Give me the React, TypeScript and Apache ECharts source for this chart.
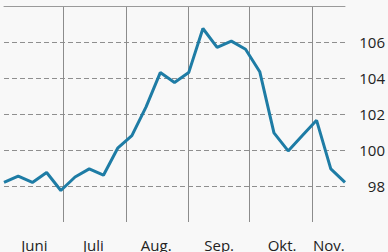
import React, { useEffect, useRef } from "react";
import * as echarts from "echarts";

// Days since 31 May (weekly observations)
const days = [1, 8, 15, 22, 29, 36, 43, 50, 57, 64, 71, 78, 85, 92, 99, 106, 113, 120, 127, 134, 141, 148, 155, 162, 169];
const values = [98.2, 98.55, 98.2, 98.75, 97.75, 98.5, 98.95, 98.6, 100.1, 100.8, 102.4, 104.3, 103.75, 104.3, 106.75, 105.7, 106.05, 105.6, 104.35, 100.95, 99.95, 100.8, 101.65, 98.95, 98.2];

// Month boundaries and label positions (same day units)
const monthStarts = [30, 61, 92, 122, 153];
const monthMids = [16, 45, 76, 107, 138, 161];
const monthNames = ["Juni", "Juli", "Aug.", "Sep.", "Okt.", "Nov."];

const yTicksShown = [98, 100, 102, 104, 106];

export default function App() {
  const ref = useRef<HTMLDivElement>(null);
  useEffect(() => {
    if (!ref.current) return;
    const chart = echarts.init(ref.current, null, { renderer: "svg" });
    const font = "'Open Sans', 'Noto Sans', sans-serif";
    chart.setOption({
      animation: false,
      backgroundColor: "#f8f8f8",
      grid: { left: 4, right: 43, top: 6, bottom: 30, containLabel: false },
      xAxis: [
        {
          type: "value",
          position: "bottom",
          min: 1,
          max: 169,
          axisLine: { show: false },
          axisTick: { show: false, customValues: monthStarts },
          splitLine: { show: true, lineStyle: { color: "#8c8c8c", width: 1, type: "solid" } },
          axisLabel: {
            customValues: monthMids,
            formatter: (v: number) => monthNames[monthMids.indexOf(v)] ?? "",
            fontFamily: font,
            fontSize: 15,
            color: "#222",
            margin: 15,
          },
        },
        {
          type: "value",
          position: "top",
          min: 1,
          max: 169,
          axisLine: { show: true, lineStyle: { color: "#9a9a9a", width: 1 } },
          axisTick: { show: false },
          axisLabel: { show: false },
          splitLine: { show: false },
        },
      ],
      yAxis: {
        type: "value",
        position: "right",
        min: 96,
        max: 108,
        interval: 2,
        axisLine: { show: false },
        axisTick: { show: false },
        axisLabel: {
          align: "right",
          margin: 40,
          fontFamily: font,
          fontSize: 15,
          color: "#222",
          formatter: (v: number) => (yTicksShown.indexOf(v) >= 0 ? String(v) : ""),
        },
        splitLine: {
          show: true,
          lineStyle: {
            type: [5, 3],
            width: 1,
            color: ["rgba(0,0,0,0)", "#8f8f8f", "#8f8f8f", "#8f8f8f", "#8f8f8f", "#8f8f8f", "#8f8f8f"],
          },
        },
      },
      series: [
        {
          type: "line",
          xAxisIndex: 0,
          data: days.map((d, i) => [d, values[i]]),
          showSymbol: false,
          symbol: "none",
          lineStyle: { color: "#1e7ca5", width: 3 },
          z: 5,
        },
      ],
    });
    return () => chart.dispose();
  }, []);
  return (
    <div
      ref={ref}
      style={{ position: "fixed", left: 0, top: 0, width: 388, height: 252 }}
    />
  );
}
